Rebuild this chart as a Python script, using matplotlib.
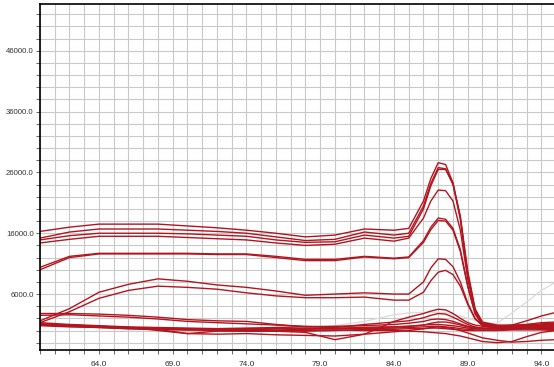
import matplotlib.pyplot as plt
from matplotlib.ticker import FixedLocator, MultipleLocator, FormatStrFormatter

# temperature (deg C) at which each reading was taken
temps = [60, 62, 64, 66, 68, 70, 72, 74, 76, 78, 80, 82, 84,
         85, 86, 86.5, 87, 87.5, 88, 88.5, 89, 89.5, 90,
         91, 92, 93, 94, 95]

# fluorescence readings, in thousands
high_1 = [16.3, 17.0, 17.5, 17.5, 17.5, 17.2, 16.9, 16.5, 16.0, 15.4, 15.7, 16.7, 16.5,
          16.8, 21.3, 25.0, 27.6, 27.3, 24.3, 18.5, 9.3, 3.4, 1.4,
          0.9, 0.9, 1.0, 1.0, 1.0]
high_2 = [15.2, 16.2, 16.7, 16.7, 16.7, 16.5, 16.3, 16.0, 15.4, 14.8, 15.0, 16.2, 15.7,
          16.0, 20.5, 24.2, 26.8, 26.6, 24.0, 18.3, 9.0, 3.2, 1.2,
          0.8, 0.8, 0.9, 0.9, 0.9]
high_3 = [14.9, 15.6, 16.0, 16.0, 16.0, 15.9, 15.7, 15.5, 14.9, 14.5, 14.6, 15.7, 15.2,
          15.5, 20.0, 23.8, 26.5, 26.5, 24.2, 18.8, 9.8, 3.6, 1.3,
          0.7, 0.7, 0.8, 0.8, 0.8]
high_4 = [14.4, 15.0, 15.5, 15.5, 15.5, 15.3, 15.1, 14.9, 14.4, 14.0, 14.2, 15.2, 14.7,
          15.2, 18.5, 21.3, 23.1, 23.0, 21.3, 16.5, 8.5, 3.2, 1.2,
          0.6, 0.6, 0.7, 0.7, 0.7]
mid_1 = [10.4, 12.2, 12.7, 12.7, 12.7, 12.7, 12.6, 12.6, 12.2, 11.7, 11.7, 12.2, 11.9,
         12.1, 14.8, 17.0, 18.5, 18.3, 16.8, 13.3, 7.4, 2.8, 1.0,
         0.6, 0.5, 0.5, 0.5, 0.5]
mid_2 = [10.0, 12.0, 12.6, 12.6, 12.6, 12.6, 12.5, 12.5, 12.0, 11.5, 11.5, 12.1, 11.8,
         12.0, 14.5, 16.6, 18.1, 18.0, 16.5, 13.0, 7.2, 2.7, 0.9,
         0.5, 0.4, 0.4, 0.4, 0.4]
low_1 = [1.6, 3.6, 6.3, 7.6, 8.5, 8.1, 7.5, 7.1, 6.5, 5.8, 6.0, 6.2, 6.0,
         6.0, 8.0, 10.3, 11.8, 11.7, 10.5, 8.0, 4.5, 2.0, 0.9,
         0.5, 0.4, 0.4, 0.4, 0.4]
low_2 = [1.3, 3.1, 5.3, 6.6, 7.3, 7.1, 6.8, 6.2, 5.7, 5.4, 5.4, 5.5, 5.0,
         5.0, 6.3, 8.2, 9.6, 9.9, 9.2, 7.3, 4.3, 1.9, 0.8,
         0.4, 0.3, 0.3, 0.3, 0.3]
base_1 = [2.8, 2.8, 2.7, 2.5, 2.2, 1.8, 1.6, 1.5, 1.0, 0.6, 0.5, 1.0, 1.4,
          1.6, 2.1, 2.5, 2.8, 2.7, 2.2, 1.6, 1.0, 0.6, 0.4,
          0.5, 0.6, 0.8, 1.0, 1.2]
base_2 = [2.5, 2.6, 2.4, 2.2, 1.9, 1.5, 1.3, 1.1, 0.9, 0.7, 0.6, 0.5, 0.6,
          0.7, 0.9, 1.2, 1.4, 1.4, 1.2, 0.9, 0.6, 0.4, 0.3,
          0.3, 0.6, 1.0, 1.3, 1.4]
base_3 = [1.3, 1.0, 0.8, 0.6, 0.5, 0.4, 0.3, 0.3, 0.3, 0.3, 0.3, 0.5, 0.6,
          0.7, 0.9, 1.0, 1.0, 0.9, 0.8, 0.6, 0.4, 0.3, 0.3,
          0.3, 0.3, 0.4, 0.4, 0.4]
base_4 = [1.0, 0.8, 0.6, 0.4, 0.3, 0.2, 0.2, 0.2, 0.1, 0.2, 0.3, 0.3, 0.4,
          0.5, 0.6, 0.7, 0.7, 0.6, 0.5, 0.3, 0.2, 0.1, 0.1,
          0.1, 0.2, 0.3, 0.2, 0.2]
base_5 = [0.8, 0.6, 0.5, 0.3, 0.2, 0.1, 0.1, 0.0, 0.0, -0.1, 0.0, 0.2, 0.2,
          0.3, 0.3, 0.4, 0.4, 0.3, 0.2, 0.1, 0.0, 0.0, 0.0,
          0.0, 0.1, 0.1, 0.1, 0.0]
base_6 = [1.1, 0.9, 0.7, 0.5, 0.0, -0.5, -0.1, -0.1, -0.1, -0.3, -1.5, -0.6, 1.5,
          2.2, 2.8, 3.2, 3.5, 3.4, 2.8, 2.0, 1.3, 0.9, 0.7,
          0.6, 0.9, 1.6, 2.4, 3.0]
base_7 = [1.0, 0.8, 0.6, 0.4, 0.2, -0.5, -0.6, -0.5, -0.7, -0.8, -0.9, -0.6, -0.2,
          0.0, 0.3, 0.5, 0.6, 0.5, 0.3, 0.0, -0.4, -0.8, -1.2,
          -1.6, -1.9, -1.8, -1.6, -1.5]
base_8 = [0.9, 0.7, 0.5, 0.3, 0.2, 0.1, 0.0, -0.1, -0.1, 0.0, 0.1, 0.0, 0.0,
          -0.1, -0.2, -0.3, -0.4, -0.5, -0.7, -0.9, -1.2, -1.5, -1.8,
          -2.0, -1.8, -1.0, -0.3, 0.0]
base_9 = [1.1, 0.9, 0.7, 0.5, 0.4, 0.3, 0.3, 0.4, 0.5, 0.6, 0.7, 0.8, 1.0,
          1.2, 1.5, 1.8, 1.9, 1.8, 1.5, 1.1, 0.7, 0.5, 0.4,
          0.3, 0.4, 0.8, 1.1, 1.2]
# one well drawn in light grey (deselected)
grey_well = [0.9, 0.7, 0.6, 0.5, 0.4, 0.4, 0.4, 0.4, 0.5, 0.6, 0.8, 1.5, 2.6,
             2.9, 3.0, 3.0, 3.0, 2.9, 2.7, 2.4, 2.0, 1.7, 1.2,
             1.2, 2.9, 4.7, 6.6, 8.0]

red_wells = [base_1, base_2, base_3, base_4, base_5, base_6, base_7, base_8, base_9,
             low_1, low_2, mid_1, mid_2, high_4, high_3, high_2, high_1]

x_ticks = [64, 69, 74, 79, 84, 89, 94]
y_ticks = [6000, 16000, 26000, 36000, 46000]

fig = plt.figure(figsize=(5.54, 3.67), dpi=100)
ax = fig.add_axes([40 / 554, 1 - 350 / 367, 1 - 40 / 554, 346 / 367])

ax.plot(temps, [v * 1000 for v in grey_well], color="#dadada", lw=0.9)
for well in red_wells:
    ax.plot(temps, [v * 1000 for v in well], color="#b3151f", lw=1.0)

ax.set_xlim(60, 94.85)
ax.set_ylim(-3200, 53700)

ax.xaxis.set_major_locator(FixedLocator(x_ticks))
ax.xaxis.set_minor_locator(MultipleLocator(1))
ax.yaxis.set_major_locator(FixedLocator(y_ticks))
ax.yaxis.set_minor_locator(MultipleLocator(2000))
ax.xaxis.set_major_formatter(FormatStrFormatter("%.1f"))
ax.yaxis.set_major_formatter(FormatStrFormatter("%.1f"))

ax.grid(which="both", color="#c9c9c9", lw=0.8)
ax.set_axisbelow(True)

for side in ["top", "left", "bottom"]:
    ax.spines[side].set_color("black")
    ax.spines[side].set_linewidth(1.2)
ax.spines["right"].set_visible(False)

ax.tick_params(which="both", direction="out", length=3, width=0.7, colors="#666666",
               labelcolor="#333333", labelsize=6)
ax.tick_params(axis="x", pad=5)
ax.tick_params(axis="y", pad=1.5, labelsize=5.6)
for lab in ax.get_xticklabels() + ax.get_yticklabels():
    lab.set_family("Liberation Sans")

fig.savefig("out.png", dpi=100)
plt.close(fig)
